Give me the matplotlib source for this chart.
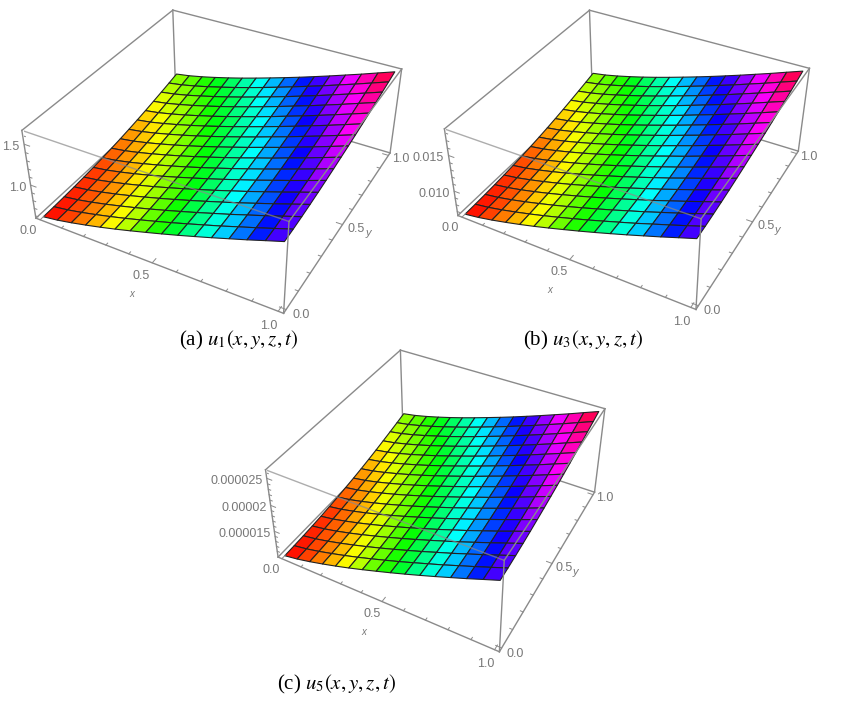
import numpy as np
import matplotlib
matplotlib.use('Agg')
import matplotlib.pyplot as plt

plt.rcParams['font.family'] = ['Liberation Sans', 'DejaVu Sans']
plt.rcParams['mathtext.fontset'] = 'stix'

heights = [
    [.000, .026, .061, .101, .144, .190, .239, .290, .342, .396, .452, .509, .568, .627, .689, .750],
    [.003, .029, .064, .104, .147, .193, .242, .293, .345, .400, .456, .512, .572, .631, .692, .754],
    [.008, .034, .069, .109, .153, .199, .248, .299, .352, .406, .463, .519, .579, .638, .700, .762],
    [.015, .041, .076, .116, .160, .207, .256, .307, .360, .415, .471, .528, .588, .648, .710, .772],
    [.024, .050, .086, .126, .170, .216, .266, .317, .371, .425, .482, .539, .599, .659, .722, .784],
    [.035, .061, .097, .137, .181, .228, .278, .330, .383, .438, .495, .552, .613, .673, .735, .798],
    [.048, .074, .110, .151, .195, .242, .291, .343, .397, .452, .509, .567, .627, .688, .750, .813],
    [.063, .089, .125, .166, .210, .257, .307, .359, .413, .468, .526, .583, .644, .704, .767, .830],
    [.080, .106, .142, .183, .227, .274, .324, .376, .430, .485, .543, .600, .661, .721, .784, .847],
    [.099, .125, .161, .202, .246, .293, .343, .395, .449, .504, .562, .619, .680, .740, .803, .866],
    [.120, .146, .182, .223, .267, .314, .364, .416, .470, .525, .582, .640, .700, .760, .823, .886],
    [.143, .169, .205, .245, .290, .336, .386, .438, .491, .546, .604, .661, .721, .782, .844, .907],
    [.168, .194, .230, .270, .314, .361, .410, .462, .515, .570, .627, .684, .744, .804, .867, .929],
    [.194, .220, .255, .296, .340, .386, .435, .487, .540, .594, .651, .708, .768, .828, .890, .952],
    [.221, .247, .282, .322, .366, .412, .461, .512, .565, .619, .676, .732, .792, .851, .913, .975],
    [.250, .276, .311, .351, .394, .440, .489, .540, .592, .646, .702, .759, .818, .877, .939, 1.00],
]

xy_major = [0.0, 0.5, 1.0]
xy_minor = [0.1, 0.2, 0.3, 0.4, 0.6, 0.7, 0.8, 0.9]

u1_range = [0.57, 1.64]
u1_major = [1.0, 1.5]
u1_labels = ['1.0', '1.5']
u1_minor = [0.6, 0.7, 0.8, 0.9, 1.1, 1.2, 1.3, 1.4, 1.6]

u3_range = [0.0064, 0.0183]
u3_major = [0.010, 0.015]
u3_labels = ['0.010', '0.015']
u3_minor = [0.007, 0.008, 0.009, 0.011, 0.012, 0.013, 0.014, 0.016, 0.017, 0.018]

u5_range = [0.0000098, 0.0000262]
u5_major = [0.000015, 0.00002, 0.000025]
u5_labels = ['0.000015', '0.00002', '0.000025']
u5_minor = [0.000011, 0.000012, 0.000013, 0.000014, 0.000016, 0.000017, 0.000018,
            0.000019, 0.000021, 0.000022, 0.000023, 0.000024, 0.000026]

captions = ['(a) $u_1(x,y,z,t)$', '(b) $u_3(x,y,z,t)$', '(c) $u_5(x,y,z,t)$']

GREY = '#8a8a8a'
TEXT = '#777777'
W, H = 841, 701


def panel(cx, cy, sw, sh, zrange, zmajor, zlabels, zminor):
    ax = fig.add_axes([(cx - sw / 2) / W, 1 - (cy + sh / 2) / H, sw / W, sh / H],
                      projection='3d', computed_zorder=False)
    # the reference box is a little stretched, so keep the axes rectangle as given
    ax.apply_aspect = lambda position=None: None
    ax.set_proj_type('persp', focal_length=0.44)
    ax.view_init(elev=36.2, azim=-61.6)
    ax.set_box_aspect((1, 1, 0.4), zoom=1.0)
    ax.set_xticks([])
    ax.set_yticks([])
    ax.set_zticks([])
    ax.set_axis_off()
    ax.patch.set_alpha(0)

    pad = 0.02
    zlo, zhi = zrange
    zpad = (zhi - zlo) * pad
    x0, x1 = -pad, 1 + pad
    y0, y1 = -pad, 1 + pad
    z0, z1 = zlo, zhi + zpad
    ax.set_xlim(x0, x1)
    ax.set_ylim(y0, y1)
    ax.set_zlim(z0, z1)

    scaled = np.array(heights)
    n = scaled.shape[0]
    X, Y = np.meshgrid(np.arange(n) / (n - 1), np.arange(n) / (n - 1))
    Z = zlo + scaled * (zhi - zlo)
    # each cell takes the hue of its mean height
    cell = (scaled[:-1, :-1] + scaled[1:, :-1] + scaled[:-1, 1:] + scaled[1:, 1:]) / 4
    ax.plot_surface(X, Y, Z, facecolors=plt.cm.hsv(cell), rstride=1, cstride=1, shade=False,
                    edgecolor='#222222', linewidth=0.8, zorder=2, antialiased=True)

    kw = dict(color=GREY, lw=1.0, clip_on=False)
    # edges behind the surface
    ax.plot([x0, x1], [y1, y1], [z0, z0], zorder=1, **kw)
    ax.plot([x0, x0], [y0, y1], [z0, z0], zorder=1, **kw)
    ax.plot([x0, x0], [y1, y1], [z0, z1], zorder=1, **kw)
    # edges in front
    ax.plot([x0, x1], [y0, y0], [z0, z0], zorder=3, **kw)
    ax.plot([x1, x1], [y0, y1], [z0, z0], zorder=3, **kw)
    ax.plot([x0, x0], [y0, y0], [z0, z1], zorder=3, **kw)
    ax.plot([x1, x1], [y0, y0], [z0, z1], zorder=3, **kw)
    ax.plot([x1, x1], [y1, y1], [z0, z1], zorder=3, **kw)
    ax.plot([x0, x1], [y1, y1], [z1, z1], zorder=3, **kw)
    ax.plot([x0, x0], [y0, y1], [z1, z1], zorder=3, **kw)
    ax.plot([x1, x1], [y0, y1], [z1, z1], zorder=3, **kw)
    ax.plot([x0, x1], [y0, y0], [z1, z1], zorder=3, color=GREY, lw=1.0, alpha=0.7)

    tk = dict(color=GREY, lw=0.7, zorder=3)
    for v, ln in [(t, 0.025) for t in xy_major] + [(t, 0.012) for t in xy_minor]:
        ax.plot([v, v], [y0, y0 + ln], [z0, z0], **tk)
        ax.plot([x1, x1 - ln], [v, v], [z0, z0], **tk)
    for v in zmajor:
        ax.plot([x0, x0 + 0.025], [y0, y0], [v, v], **tk)
    for v in zminor:
        ax.plot([x0, x0 + 0.012], [y0, y0], [v, v], **tk)

    lab = dict(color=TEXT, fontsize=9, ha='center', va='center', zorder=4)
    for v in xy_major:
        ax.text(v, y0 - 0.075, z0, f'{v:.1f}', **lab)
        ax.text(x1 + 0.055, v, z0, f'{v:.1f}', **lab)
    for v, s in zip(zmajor, zlabels):
        ax.text(x0 - 0.005, y0 - 0.02, v, s, color=TEXT, fontsize=9, ha='right', va='center', zorder=4)
    ax.text(0.52, y0 - 0.165, z0, 'x', color=TEXT, fontsize=7, style='italic', ha='center', va='center')
    ax.text(x1 + 0.105, 0.5, z0, 'y', color=TEXT, fontsize=8, style='italic', ha='center', va='center')
    return ax


fig = plt.figure(figsize=(W / 100, H / 100), dpi=100)
panel(216, 147.7, 385, 379, u1_range, u1_major, u1_labels, u1_minor)
panel(631, 146, 370, 374, u3_range, u3_major, u3_labels, u3_minor)
panel(439, 487, 344, 377, u5_range, u5_major, u5_labels, u5_minor)

cap = dict(fontsize=15, ha='center', va='center', family='Liberation Serif')
fig.text(239 / W, 1 - 340 / H, captions[0], **cap)
fig.text(583 / W, 1 - 340 / H, captions[1], **cap)
fig.text(337 / W, 1 - 684 / H, captions[2], **cap)

fig.savefig('out.png', dpi=100)
